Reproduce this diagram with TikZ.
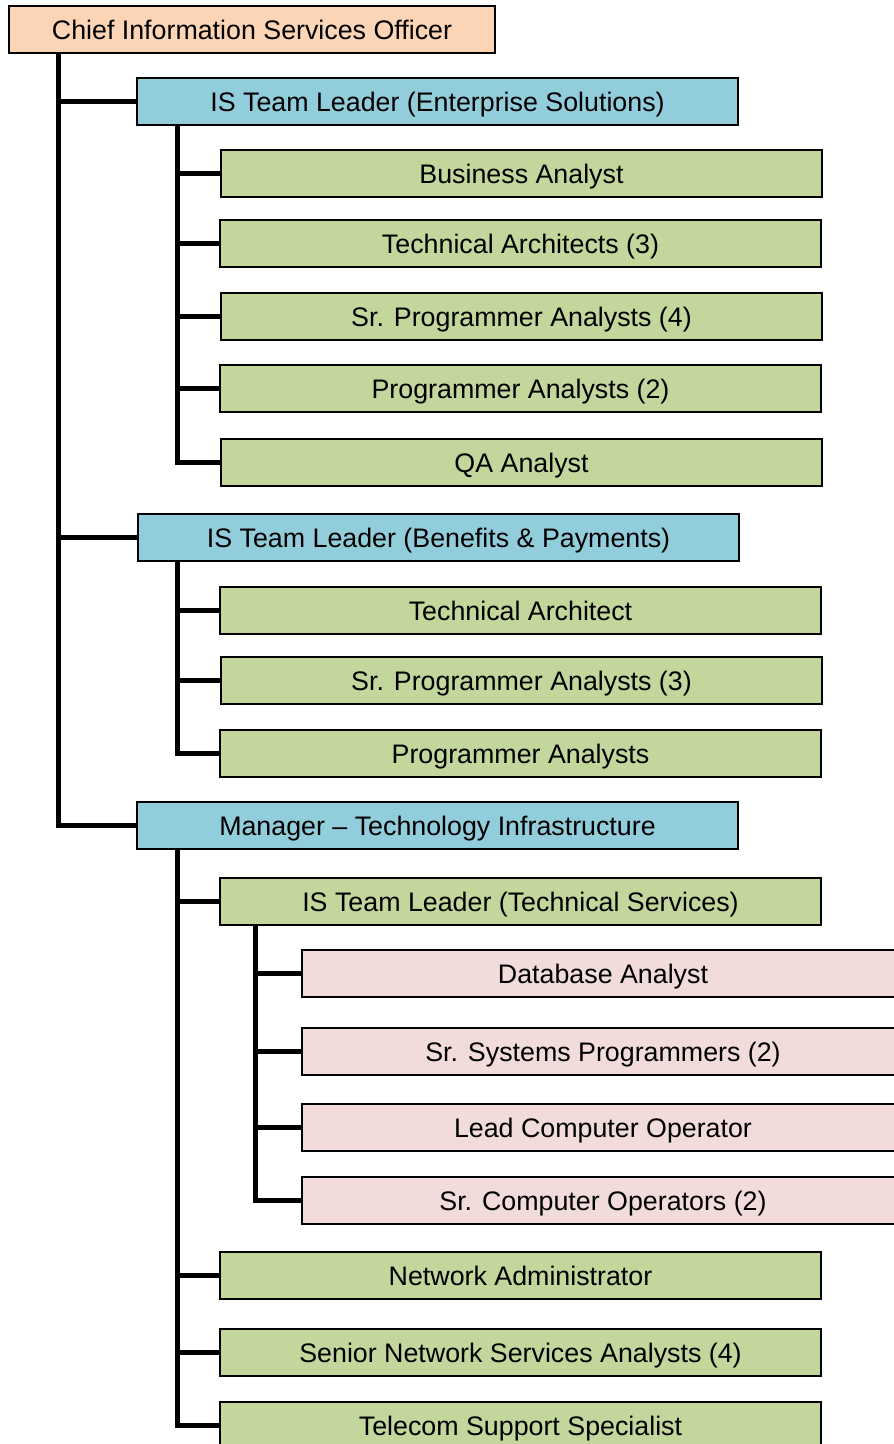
\documentclass[tikz,border=0pt]{standalone}
\usepackage{fontspec}
\setmainfont{Liberation Sans}
\definecolor{cOrange}{HTML}{FBD5B5}
\definecolor{cBlue}{HTML}{92CDDC}
\definecolor{cGreen}{HTML}{C3D69B}
\definecolor{cPink}{HTML}{F2DCDB}
\tikzset{
  box/.style={draw=black, line width=1.6pt, anchor=north west, minimum height=47pt,
    inner sep=0pt, outer sep=0pt, text height=19pt, text depth=0pt,
    font=\fontsize{26.8}{30}\selectfont, text=black},
  topbox/.style={box, fill=cOrange, minimum width=486pt},
  leadbox/.style={box, fill=cBlue, minimum width=601pt},
  staffbox/.style={box, fill=cGreen, minimum width=601pt},
  subbox/.style={box, fill=cPink, minimum width=602pt},
  conn/.style={draw=black, line width=5pt}
}
\begin{document}
\begin{tikzpicture}[x=1pt,y=-1pt]
\useasboundingbox (0,0) rectangle (894,1444);
\clip (0,0) rectangle (894,1444);
\fill[white] (0,0) rectangle (894,1444);

\node[topbox] (ciso) at (9,6) {Chief Information Services Officer};

\node[leadbox] (es) at (137,78) {IS Team Leader (Enterprise Solutions)};
\node[staffbox] (ba) at (221,150) {Business Analyst};
\node[staffbox] (ta3) at (220,220) {Technical Architects (3)};
\node[staffbox] (spa4) at (221,293) {Sr. Programmer Analysts (4)};
\node[staffbox] (pa2) at (220,365) {Programmer Analysts (2)};
\node[staffbox] (qa) at (221,439) {QA Analyst};

\node[leadbox] (bp) at (138,514) {IS Team Leader (Benefits \& Payments)};
\node[staffbox] (ta) at (220,587) {Technical Architect};
\node[staffbox] (spa3) at (221,657) {Sr. Programmer Analysts (3)};
\node[staffbox] (pa) at (220,730) {Programmer Analysts};

\node[leadbox] (mgr) at (137,802) {Manager – Technology Infrastructure};
\node[staffbox] (ts) at (220,878) {IS Team Leader (Technical Services)};
\node[subbox] (dba) at (302,950) {Database Analyst};
\node[subbox] (ssp) at (302,1028) {Sr. Systems Programmers (2)};
\node[subbox] (lco) at (302,1104) {Lead Computer Operator};
\node[subbox] (sco) at (302,1177) {Sr. Computer Operators (2)};
\node[staffbox] (na) at (220,1252) {Network Administrator};
\node[staffbox] (snsa) at (220,1329) {Senior Network Services Analysts (4)};
\node[staffbox] (tss) at (220,1402) {Telecom Support Specialist};

% connectors
\foreach \c in {es,bp,mgr}
  \draw[conn] ([xshift=49pt]ciso.south west) |- (\c.west);
\foreach \c in {ba,ta3,spa4,pa2,qa}
  \draw[conn] ([xshift=40pt]es.south west) |- (\c.west);
\foreach \c in {ta,spa3,pa}
  \draw[conn] ([xshift=39pt]bp.south west) |- (\c.west);
\foreach \c in {ts,na,snsa,tss}
  \draw[conn] ([xshift=40pt]mgr.south west) |- (\c.west);
\foreach \c in {dba,ssp,lco,sco}
  \draw[conn] ([xshift=35pt]ts.south west) |- (\c.west);
\end{tikzpicture}
\end{document}
